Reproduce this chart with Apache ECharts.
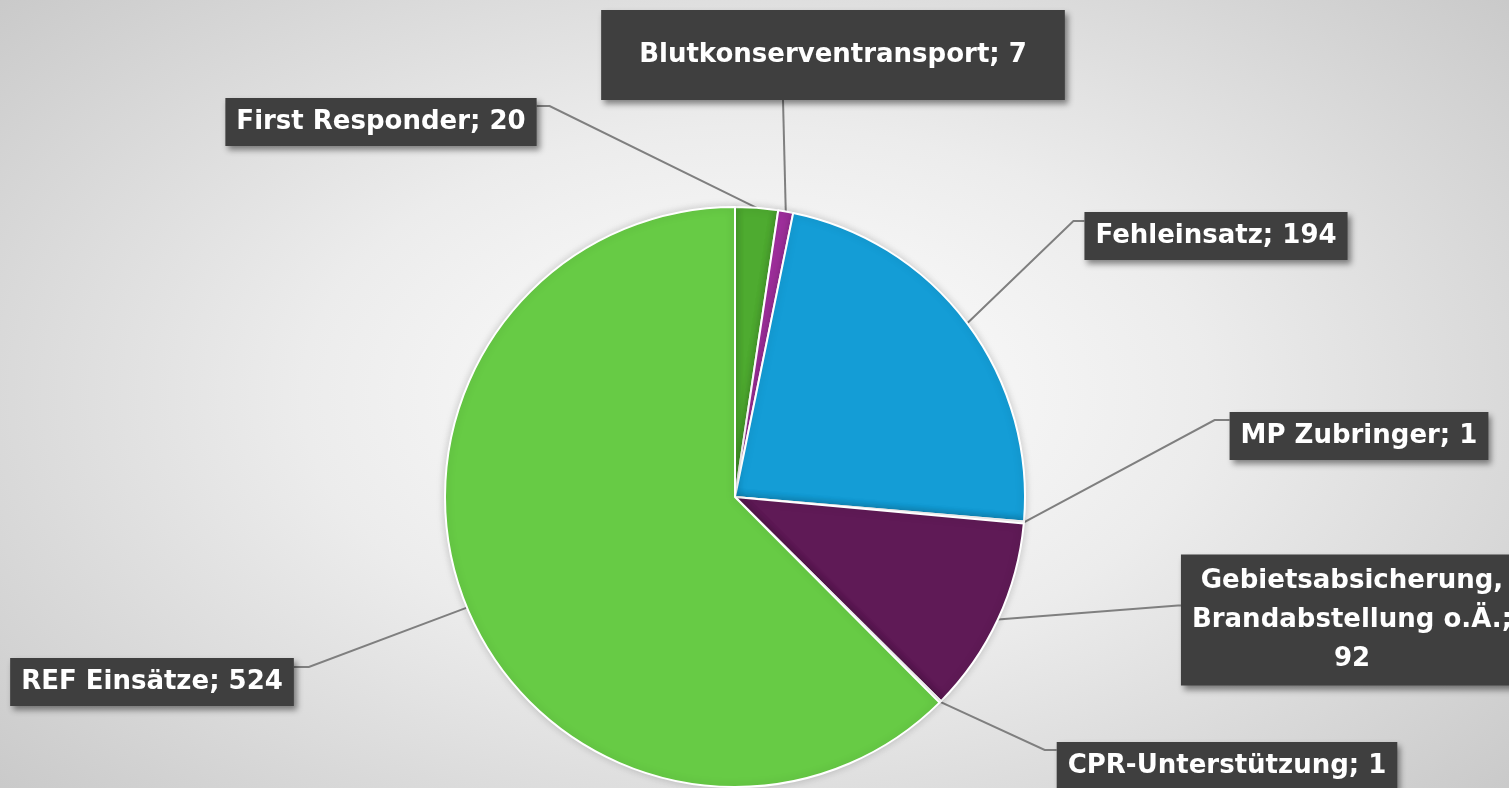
<!DOCTYPE html>
<html>
<head>
<meta charset="utf-8">
<script src="https://cdn.jsdelivr.net/npm/echarts@6/dist/echarts.min.js"></script>
<style>
  html, body { margin: 0; padding: 0; }
  body {
    width: 1509px;
    height: 788px;
    overflow: hidden;
    background: radial-gradient(ellipse 75% 85% at 50% 50%, #ffffff 0%, #ececec 40%, #c2c2c2 100%);
  }
  #chart { width: 1509px; height: 788px; }
</style>
</head>
<body>
<div id="chart"></div>
<script>
const categories = [
  "First Responder",
  "Blutkonserventransport",
  "Fehleinsatz",
  "MP Zubringer",
  "Gebietsabsicherung,\nBrandabstellung o.Ä.",
  "CPR-Unterstützung",
  "REF Einsätze",
];
const values = [20, 7, 194, 1, 92, 1, 524];
const colors = ["#4eab30", "#a1309e", "#149dd6", "#e9a23b", "#5f1a56", "#d0d0d0", "#67cb45"];

// label box centres and where the leader line meets the box
// side: edge of the box, at: offset from box top (left/right) or centre (bottom), bend: horizontal stub
const labelSpots = [
  { x: 381, y: 122, side: "right", at: 8, bend: 13 },
  { x: 833, y: 55, side: "bottom", at: -50 },
  { x: 1216, y: 236, side: "left", at: 9, bend: 11 },
  { x: 1359, y: 436, side: "left", at: 8, bend: 15 },
  { x: 1352, y: 620, side: "left", at: 51, bend: 3 },
  { x: 1227, y: 766, side: "left", at: 8, bend: 12 },
  { x: 152, y: 682, side: "right", at: 9, bend: 15 },
];

const labelFont = "'DejaVu Sans', sans-serif";

const chart = echarts.init(document.getElementById("chart"), null, { renderer: "canvas" });

const pieData = categories.map((name, i) => {
  const item = {
    name: name,
    value: values[i],
    itemStyle: { color: colors[i] },
  };
  if (name === "Blutkonserventransport") {
    item.label = { padding: [28, 38] };
  }
  if (name.indexOf("\n") >= 0) {
    item.label = { lineHeight: 39 };
  }
  return item;
});

const option = {
  backgroundColor: "transparent",
  animation: false,
  series: [
    {
      type: "pie",
      center: [735, 497],
      radius: 290,
      startAngle: 90,
      clockwise: true,
      avoidLabelOverlap: false,
      data: pieData,
      itemStyle: {
        borderColor: "#ffffff",
        borderWidth: 2,
        shadowBlur: 8,
        shadowColor: "rgba(0,0,0,0.18)",
      },
      label: {
        show: true,
        position: "outside",
        formatter: (p) =>
          p.name.indexOf("\n") >= 0 ? p.name + ";\n" + p.value : p.name + "; " + p.value,
        color: "#ffffff",
        fontFamily: labelFont,
        fontWeight: "bold",
        fontSize: 26,
        lineHeight: 34,
        align: "center",
        overflow: "none",
        backgroundColor: "#3f3f3f",
        padding: [7, 11],
        shadowColor: "rgba(0,0,0,0.45)",
        shadowBlur: 6,
        shadowOffsetX: 3,
        shadowOffsetY: 4,
      },
      labelLine: {
        show: true,
        length: 20,
        length2: 20,
        lineStyle: { color: "#7f7f7f", width: 2 },
      },
      labelLayout: (params) => {
        const spot = labelSpots[params.dataIndex];
        const w = params.labelRect.width;
        const h = params.labelRect.height;
        const left = spot.x - w / 2;
        const top = spot.y - h / 2;
        const anchor = params.labelLinePoints
          ? params.labelLinePoints[0].slice()
          : [spot.x, spot.y];
        let end, bend;
        if (spot.side === "right") {
          end = [left + w, top + spot.at];
          bend = [end[0] + spot.bend, end[1]];
        } else if (spot.side === "left") {
          end = [left, top + spot.at];
          bend = [end[0] - spot.bend, end[1]];
        } else {
          end = [spot.x + spot.at, top + h];
          bend = end.slice();
        }
        return {
          x: spot.x,
          y: spot.y,
          align: "center",
          verticalAlign: "middle",
          hideOverlap: false,
          moveOverlap: null,
          labelLinePoints: [anchor, bend, end],
        };
      },
    },
  ],
};

chart.setOption(option);
</script>
</body>
</html>
